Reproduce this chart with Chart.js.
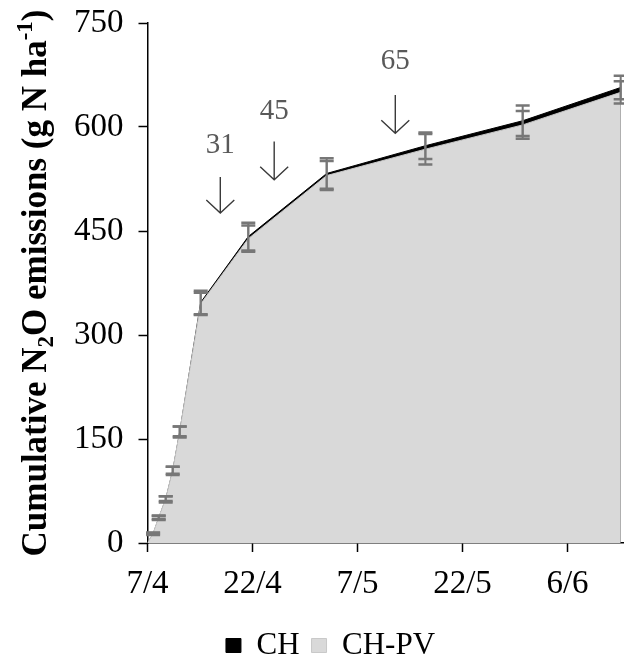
<!DOCTYPE html>
<html><head><meta charset="utf-8">
<script src="https://cdn.jsdelivr.net/npm/chart.js@4"></script>
<style>html,body{margin:0;padding:0;overflow:hidden;background:#fff}canvas{display:block}</style>
</head><body>
<canvas id="c" width="661" height="671"></canvas>
<script>
// ---- data (days after 7/4) ----
const days        = [0, 0.8, 1.6, 2.6, 3.6, 4.6, 7.6, 14.4, 25.6, 39.7, 53.6, 67.6];
const chValues    = [0, 13, 36, 63, 104, 160, 347, 442, 533, 573, 609, 657];
const chpvValues  = [0, 14, 37, 64, 105, 161, 345, 439, 530, 568, 603, 650];
const chErrors    = [0, 1.5, 3, 4.5, 6, 8, 17, 20, 22, 19, 22, 17];
const chpvErrors  = [0, 1, 2.5, 3.5, 5, 7, 16, 19, 21, 22, 20, 16];
const tickDays    = [0, 15, 30, 45, 60];
const tickLabels  = ['7/4', '22/4', '7/5', '22/5', '6/6'];
const yMin = 0, yMax = 750, yStep = 150;
const arrowDays        = [10.4, 18.1, 35.4];
const arrowTopValues   = [528, 579, 646];
const arrowBotValues   = [476, 524, 591];
const arrowLabelValues = [563, 612, 683];
const arrowLabels      = ['31', '45', '65'];

const SERIF = '"Liberation Serif", "Times New Roman", serif';

const extras = {
  id: 'extras',
  afterDatasetsDraw(chart) {
    const {ctx, scales: {x, y}} = chart;
    ctx.save();
    // error bars
    ctx.strokeStyle = '#777777';
    const series = [[chValues, chErrors], [chpvValues, chpvErrors]];
    series.forEach(([vals, errs]) => {
      for (let i = 0; i < days.length; i++) {
        if (!errs[i]) continue;
        const px = x.getPixelForValue(days[i]);
        const yt = y.getPixelForValue(vals[i] + errs[i]);
        const yb = y.getPixelForValue(vals[i] - errs[i]);
        ctx.lineWidth = 2;
        ctx.beginPath(); ctx.moveTo(px, yt); ctx.lineTo(px, yb); ctx.stroke();
        ctx.lineWidth = 2.5;
        ctx.beginPath();
        ctx.moveTo(px - 7, yt); ctx.lineTo(px + 7, yt);
        ctx.moveTo(px - 7, yb); ctx.lineTo(px + 7, yb);
        ctx.stroke();
      }
    });
    // arrows
    ctx.strokeStyle = '#3a3a3a';
    ctx.lineWidth = 1.4;
    ctx.fillStyle = '#595959';
    ctx.font = '29px ' + SERIF;
    ctx.textAlign = 'center';
    ctx.textBaseline = 'alphabetic';
    for (let i = 0; i < arrowDays.length; i++) {
      const px = x.getPixelForValue(arrowDays[i]);
      const yt = y.getPixelForValue(arrowTopValues[i]);
      const yb = y.getPixelForValue(arrowBotValues[i]);
      ctx.beginPath();
      ctx.moveTo(px, yt); ctx.lineTo(px, yb);
      ctx.moveTo(px - 14, yb - 13); ctx.lineTo(px, yb); ctx.lineTo(px + 14, yb - 13);
      ctx.stroke();
      ctx.fillText(arrowLabels[i], px, y.getPixelForValue(arrowLabelValues[i]));
    }
    ctx.restore();
  },
  afterDraw(chart) {
    const {ctx, chartArea} = chart;
    const parts = [['Cumulative N', 0], ['2', 1], ['O emissions (g N ha', 0], ['-1', 2], [')', 0]];
    const big = 'bold 35px ' + SERIF, small = 'bold 23px ' + SERIF;
    ctx.save();
    let total = 0;
    parts.forEach(([t, k]) => { ctx.font = k ? small : big; total += ctx.measureText(t).width; });
    ctx.translate(46, (chartArea.top + chartArea.bottom) / 2);
    ctx.rotate(-Math.PI / 2);
    ctx.fillStyle = '#000';
    ctx.textAlign = 'left';
    ctx.textBaseline = 'alphabetic';
    let cx = -total / 2;
    parts.forEach(([t, k]) => {
      ctx.font = k ? small : big;
      const dy = k === 1 ? 7 : (k === 2 ? -14 : 0);
      ctx.fillText(t, cx, dy);
      cx += ctx.measureText(t).width;
    });
    ctx.restore();
  }
};

new Chart(document.getElementById('c'), {
  type: 'line',
  data: {
    datasets: [
      {
        label: 'CH-PV',
        data: days.map((d, i) => ({x: d, y: chpvValues[i]})),
        backgroundColor: '#d9d9d9',
        borderColor: '#c9c9c9',
        borderWidth: 1,
        fill: 'origin',
        pointRadius: 0,
        tension: 0
      },
      {
        label: 'CH',
        data: days.map((d, i) => ({x: d, y: chValues[i]})),
        backgroundColor: '#000000',
        borderColor: '#000000',
        borderWidth: 1,
        fill: 'origin',
        pointRadius: 0,
        tension: 0
      }
    ]
  },
  options: {
    responsive: false,
    animation: false,
    devicePixelRatio: 1,
    layout: {padding: {top: 23, right: 0, left: 0, bottom: 0}},
    plugins: {
      tooltip: {enabled: false},
      legend: {
        position: 'bottom',
        labels: {
          font: {family: SERIF, size: 31},
          color: '#000',
          boxWidth: 15,
          boxHeight: 14,
          padding: 12,
          sort: (a, b) => b.datasetIndex - a.datasetIndex
        }
      }
    },
    scales: {
      x: {
        type: 'linear',
        min: 0,
        max: 73.36,
        afterBuildTicks: s => { s.ticks = tickDays.map(v => ({value: v})); },
        afterFit: s => { s.height = 75; s.paddingLeft = 0; s.paddingRight = 0; },
        ticks: {
          callback: v => { const i = tickDays.indexOf(v); return i >= 0 ? tickLabels[i] : ''; },
          font: {family: SERIF, size: 33},
          color: '#000',
          padding: 13,
          maxRotation: 0,
          autoSkip: false
        },
        grid: {drawOnChartArea: false, drawTicks: true, tickLength: 9, tickColor: '#000', tickWidth: 1.5},
        border: {display: true, color: '#000', width: 1.5}
      },
      y: {
        min: yMin,
        max: yMax,
        afterFit: s => { s.width = 147.5; s.paddingTop = 0; s.paddingBottom = 0; },
        ticks: {
          stepSize: yStep,
          font: {family: SERIF, size: 33},
          color: '#000',
          padding: 15
        },
        grid: {drawOnChartArea: false, drawTicks: true, tickLength: 9, tickColor: '#000', tickWidth: 1.5},
        border: {display: true, color: '#000', width: 1.5}
      }
    }
  },
  plugins: [extras]
});
</script>
</body></html>
